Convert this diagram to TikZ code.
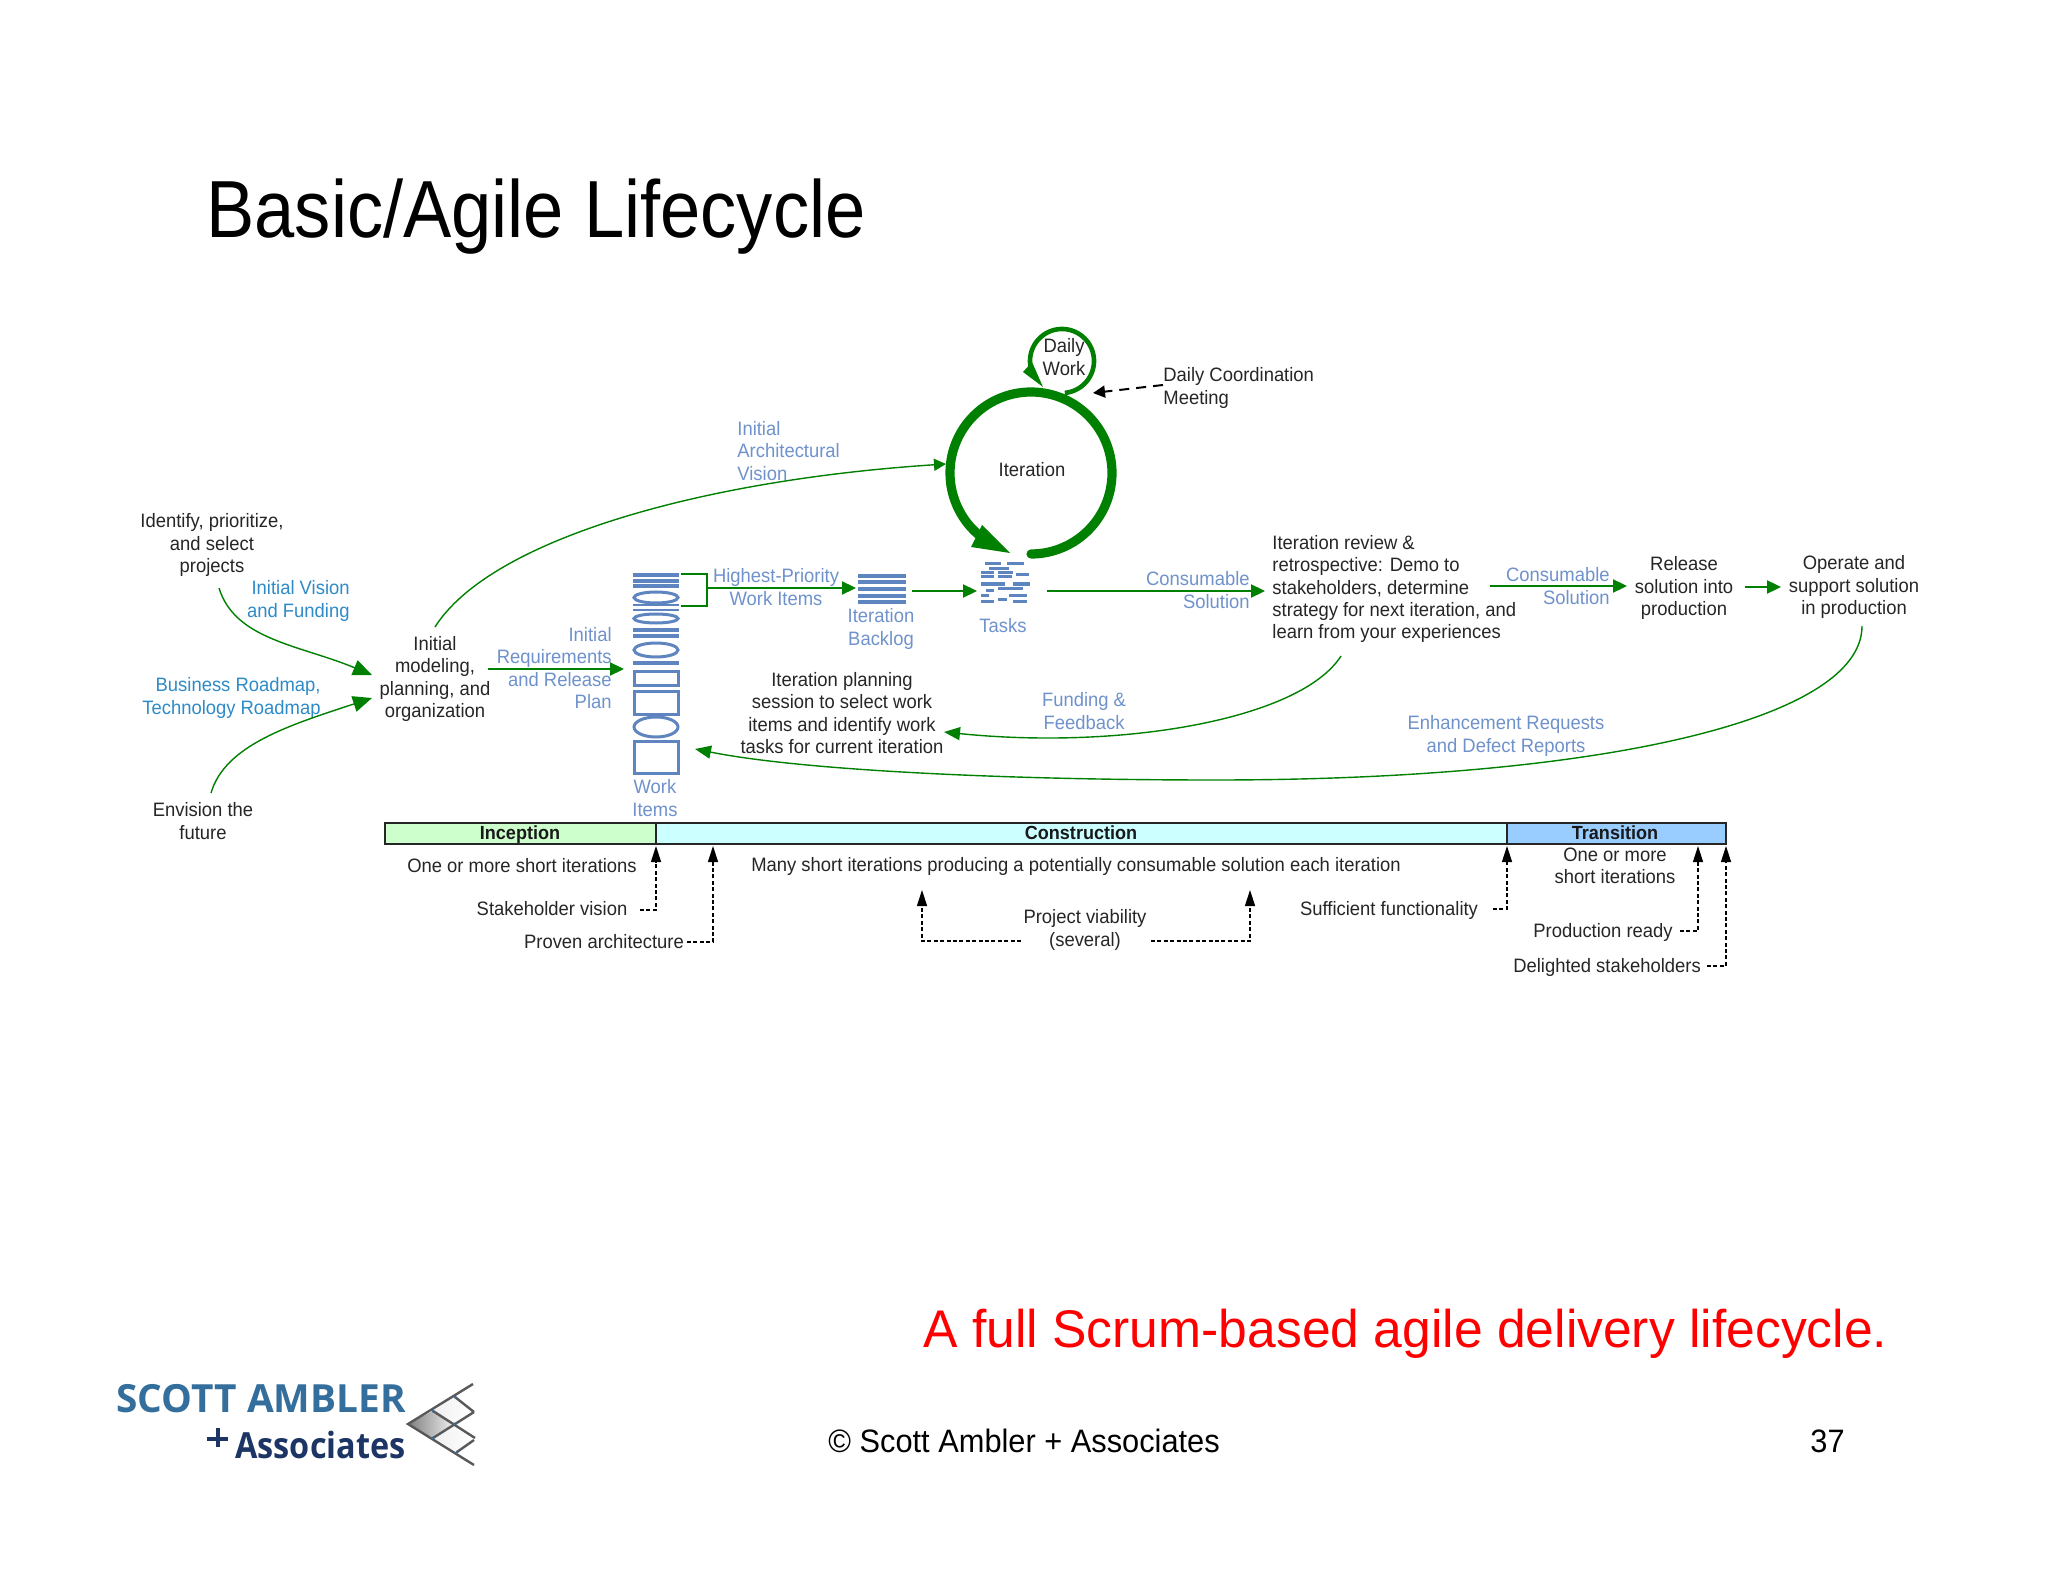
\documentclass[tikz,border=0pt]{standalone}
\usepackage{fontspec}
\setmainfont{Liberation Sans}
\newfontfamily\logofont{Open Sans}
\newfontfamily\logotwo[FakeStretch=0.9]{Open Sans}
\newfontfamily\dfont[FakeStretch=0.95]{Liberation Sans}
\newfontfamily\titlefont[FakeStretch=0.893]{Liberation Sans}
\newfontfamily\redfont[FakeStretch=0.974]{Liberation Sans}
\newfontfamily\footfont[FakeStretch=0.95]{Liberation Sans}
\usetikzlibrary{arrows.meta}
\definecolor{agreen}{HTML}{008000}
\definecolor{slate}{HTML}{6F92CC}
\definecolor{skyb}{HTML}{2E8BC8}
\definecolor{icon}{HTML}{5F85C0}
\definecolor{inc}{HTML}{CCFFCC}
\definecolor{con}{HTML}{CCFFFF}
\definecolor{tra}{HTML}{99CCFF}
\definecolor{logoa}{HTML}{336E9C}
\definecolor{logob}{HTML}{1C3564}
\tikzset{
  txt/.style={inner sep=0pt,align=center,font=\dfont\fontsize{9.7pt}{11.15pt}\selectfont,text=black!85},
  txtl/.style={txt,align=left},
  blue1/.style={txt,text=slate},
  blue1r/.style={blue1,align=right},
  blue2/.style={txt,text=skyb},
  blue2r/.style={blue2,align=right},
  phase/.style={inner sep=0pt,anchor=base,font=\dfont\bfseries\fontsize{9.5pt}{11pt}\selectfont,text=black!90},
  bar/.style={draw=black!85,line width=1.1pt},
  flow/.style={draw=agreen,line width=1.1pt,-{Triangle[length=7pt,width=6.5pt]}},
  curve/.style={draw=agreen,line width=0.7pt,-{Triangle[length=8pt,width=6.5pt]}},
  curvebig/.style={draw=agreen,line width=0.7pt,-{Triangle[length=9.5pt,width=8pt]}},
  curvesmall/.style={draw=agreen,line width=0.7pt,-{Triangle[length=6pt,width=6pt]}},
  gate/.style={draw=black,line width=0.6pt,dash pattern=on 2pt off 1.2pt,-{Triangle[length=8pt,width=5pt]}},
  itemline/.style={draw=icon,line width=1.5pt},
  lnk/.style={draw=black!30!gray,line width=1.2pt},
}
\begin{document}
\begin{tikzpicture}[x=0.5pt,y=-0.5pt]
\useasboundingbox (0,0) rectangle (2048,1582);
\fill[white] (0,0) rectangle (2048,1582);

% titles
\node[anchor=base west,inner sep=0pt,font=\titlefont\fontsize{40.5pt}{44pt}\selectfont] (title) at (206,238) {Basic/Agile Lifecycle};
\node[anchor=base west,inner sep=0pt,text=red,font=\redfont\fontsize{26.5pt}{30pt}\selectfont] (red) at (923,1347) {A full Scrum-based agile delivery lifecycle.};
\node[anchor=base west,inner sep=0pt,font=\footfont\fontsize{16.2pt}{20pt}\selectfont] (copy) at (828,1452) {© Scott Ambler + Associates};
\node[anchor=base west,inner sep=0pt,font=\footfont\fontsize{16.2pt}{20pt}\selectfont] (pg) at (1810,1452) {37};

% left text
\node[txt] (identify) at (212,545) {Identify, prioritize,\\and select\\projects};
\node[blue2r,anchor=east] (vision) at (350,601) {Initial Vision\\and Funding};
\node[blue2r,anchor=east] (roadmap) at (321,698) {Business Roadmap,\\Technology Roadmap};
\node[txt] (envision) at (203,821) {Envision the\\future};
\node[txt] (initial) at (435,679) {Initial\\modeling,\\planning, and\\organization};
\node[blue1r,anchor=east] (reqs) at (612,668) {Initial\\Requirements\\and Release\\Plan};
\node[blue1] (hp) at (776,587) {Highest-Priority\\Work Items};
\node[blue1] (backlog) at (881,629) {Iteration\\Backlog};
\node[blue1] (wi) at (655,798) {Work\\Items};
\node[txt] (planning) at (842,713) {Iteration planning\\session to select work\\items and identify work\\tasks for current iteration};
\node[blue1] (tasks) at (1003,626) {Tasks};
\node[txt] (iteration) at (1032,470) {Iteration};
\node[txt] (daily) at (1064,357) {Daily\\Work};
\node[txtl,anchor=west] (dcm) at (1163,388) {Daily Coordination\\Meeting};
\node[blue1,align=left,anchor=west] (arch) at (737,451) {Initial\\Architectural\\Vision};
\node[blue1r,anchor=east] (cs1) at (1250,590) {Consumable\\Solution};
\node[txtl,anchor=west] (review) at (1272,589) {Iteration review \&\\retrospective: Demo to\\stakeholders, determine\\strategy for next iteration, and\\learn from your experiences};
\node[blue1r,anchor=east] (cs2) at (1610,586) {Consumable\\Solution};
\node[txt] (release) at (1684,588) {Release\\solution into\\production};
\node[txt] (operate) at (1854,587) {Operate and\\support solution\\in production};
\node[blue1] (funding) at (1084,711) {Funding \&\\Feedback};
\node[blue1] (enh) at (1506,736) {Enhancement Requests\\and Defect Reports};

% phase bar
\draw[bar,fill=inc] (385,823) rectangle (656,844);
\draw[bar,fill=con] (656,823) rectangle (1507,844);
\draw[bar,fill=tra] (1507,823) rectangle (1726,844);
\coordinate (m1) at (656,846);
\coordinate (m2) at (713,846);
\coordinate (m3) at (1507,846);
\coordinate (m4) at (1698,846);
\coordinate (m5) at (1726,846);
\coordinate (m6) at (922,890);
\coordinate (m7) at (1250,890);
\node[phase] (pi) at (520,839) {Inception};
\node[phase] (pc) at (1081,839) {Construction};
\node[phase] (pt) at (1615,839) {Transition};

% text under bar
\node[txt] (oneinc) at (522,866) {One or more short iterations};
\node[txt] (many) at (1076,866) {Many short iterations producing a potentially consumable solution each iteration};
\node[txt] (onetr) at (1615,866) {One or more\\short iterations};
\node[txt] (sv) at (552,909) {Stakeholder vision};
\node[txt] (pa) at (604,942) {Proven architecture};
\node[txt] (pv) at (1085,930) {Project viability\\(several)};
\node[txt] (sf) at (1389,910) {Sufficient functionality};
\node[txt] (pr) at (1603,932) {Production ready};
\node[txt] (ds) at (1607,967) {Delighted stakeholders};

% milestones
\draw[gate] (640,910) -- (656,910) -- (m1);
\draw[gate] (687,942) -- (713,942) -- (m2);
\draw[gate] (1021,941) -- (922,941) -- (m6);
\draw[gate] (1151,941) -- (1250,941) -- (m7);
\draw[gate] (1493,909) -- (1507,909) -- (m3);
\draw[gate] (1680,931) -- (1698,931) -- (m4);
\draw[gate] (1707,966) -- (1726,966) -- (m5);

% curves
\coordinate (idS) at (219,588);
\coordinate (enS) at (211,793);
\coordinate (inT1) at (372,675);
\coordinate (inT2) at (372,698);
\coordinate (inS) at (435,627);
\coordinate (itT) at (946,464);
\draw[curvebig] (idS) .. controls (235,640) and (300,645) .. (inT1);
\draw[curvebig] (enS) .. controls (225,745) and (290,725) .. (inT2);
\draw[curvesmall] (inS) .. controls (490,540) and (700,480) .. (itT);
\coordinate (revS) at (1341,656);
\coordinate (planT) at (944,732);
\draw[curve] (revS) .. controls (1300,720) and (1120,750) .. (planT);
\coordinate (opS) at (1862,626);
\coordinate (wiT) at (695,749);
\draw[curve] (opS) .. controls (1862,720) and (1600,780) .. (1215,780) .. controls (1000,780) and (800,770) .. (wiT);

% straight flows
\coordinate (a1) at (488,669); \coordinate (a2) at (624,669);
\draw[flow] (a1) -- (a2);
\coordinate (b1) at (681,574); \coordinate (b2) at (681,606);
\draw[draw=agreen,line width=1.1pt] (b1) -- (707,574) -- (707,606) -- (b2);
\coordinate (b3) at (707,588); \coordinate (b4) at (856,588);
\draw[flow] (b3) -- (b4);
\coordinate (c1) at (912,591); \coordinate (c2) at (977,591);
\draw[flow] (c1) -- (c2);
\coordinate (d1) at (1047,591); \coordinate (d2) at (1265,591);
\draw[flow] (d1) -- (d2);
\coordinate (e1) at (1490,586); \coordinate (e2) at (1627,586);
\draw[flow] (e1) -- (e2);
\coordinate (f1) at (1745,587); \coordinate (f2) at (1781,587);
\draw[flow] (f1) -- (f2);

% iteration loops
\draw[agreen,line width=4.6pt,line cap=round] plot[domain=90:-229,samples=120] ({1031+81*cos(\x)},{473+81*sin(\x)});
\fill[agreen] (982,525) -- (1010,553) -- (971,547) -- cycle;
\draw[agreen,line width=2.3pt] plot[domain=85:-190,samples=80] ({1062+32*cos(\x)},{361+32*sin(\x)});
\fill[agreen] (1032,362) -- (1043,387) -- (1023,372) -- cycle;
\coordinate (dcS) at (1163,385); \coordinate (dcT) at (1093,393);
\draw[draw=black,line width=1pt,dash pattern=on 5pt off 3.5pt,-{Triangle[length=6pt,width=6pt]}] (dcS) -- (dcT);

% work items icon
\foreach \yy in {575,581,586,630,636} \draw[draw=icon,line width=1.7pt] (633,\yy) -- (679,\yy);
\foreach \yy in {605,610} \draw[draw=icon,line width=0.7pt] (633,\yy) -- (679,\yy);
\draw[draw=icon,line width=2.4pt] (633,663) -- (679,663);
\draw[itemline] (656,597.5) ellipse (22 and 5.5);
\draw[itemline] (656,618.5) ellipse (22 and 4.5);
\draw[itemline] (656,650) ellipse (22 and 7);
\draw[itemline] (634,671) rectangle (678,685);
\draw[itemline] (634,691) rectangle (678,714);
\draw[itemline] (656,727) ellipse (22 and 10);
\draw[itemline] (634,741) rectangle (678,773);

% iteration backlog icon
\foreach \yy in {576,582.5,589,595.5,602} \draw[draw=icon,line width=2pt] (858,\yy) -- (906,\yy);

% tasks icon
\foreach \xa/\xb/\yy in {985/1001/564,1007/1024/564,
  989/1009/569,
  981/994/573,998/1013/573,1016/1029/575,
  981/994/577,998/1012/577,
  981/1005/584,1013/1030/584,
  998/1023/588,986/994/590,
  981/989/595,1009/1027/595,
  998/1007/599,
  981/994/601,1013/1027/601}
  \draw[draw=icon,line width=1.5pt] (\xa,\yy) -- (\xb,\yy);

% logo
\node[anchor=base west,inner sep=0pt,text=logoa,font=\logofont\bfseries\fontsize{19.4pt}{22pt}\selectfont] (lg1) at (116,1412) {SCOTT AMBLER};
\node[anchor=base west,inner sep=0pt,text=logob,font=\logotwo\bfseries\fontsize{18pt}{22pt}\selectfont] (lg2) at (235,1458) {Associates};
\fill[logob] (207,1436.5) rectangle (228,1440.5);
\fill[logob] (215.5,1428) rectangle (219.5,1447);
\shade[left color=black!50,right color=black!6] (408,1424) -- (433,1411) -- (454,1424) -- (433,1438) -- cycle;
\shade[left color=black!6,right color=white] (433,1411) -- (455,1397) -- (474,1412) -- (454,1424) -- cycle;
\shade[left color=black!6,right color=white] (433,1438) -- (454,1424) -- (475,1438) -- (457,1452) -- cycle;
\draw[lnk] (473,1384) -- (408,1424) -- (474,1465);
\draw[lnk] (433,1411) -- (475,1438);
\draw[lnk] (455,1397) -- (474,1412);
\draw[lnk] (433,1438) -- (474,1412);
\draw[lnk] (457,1452) -- (474,1440);
\foreach \dx/\dy in {433/1411,455/1397,454/1424,433/1438,457/1452}
  \fill[logoa] (\dx,\dy) circle (1.6);
\end{tikzpicture}
\end{document}
